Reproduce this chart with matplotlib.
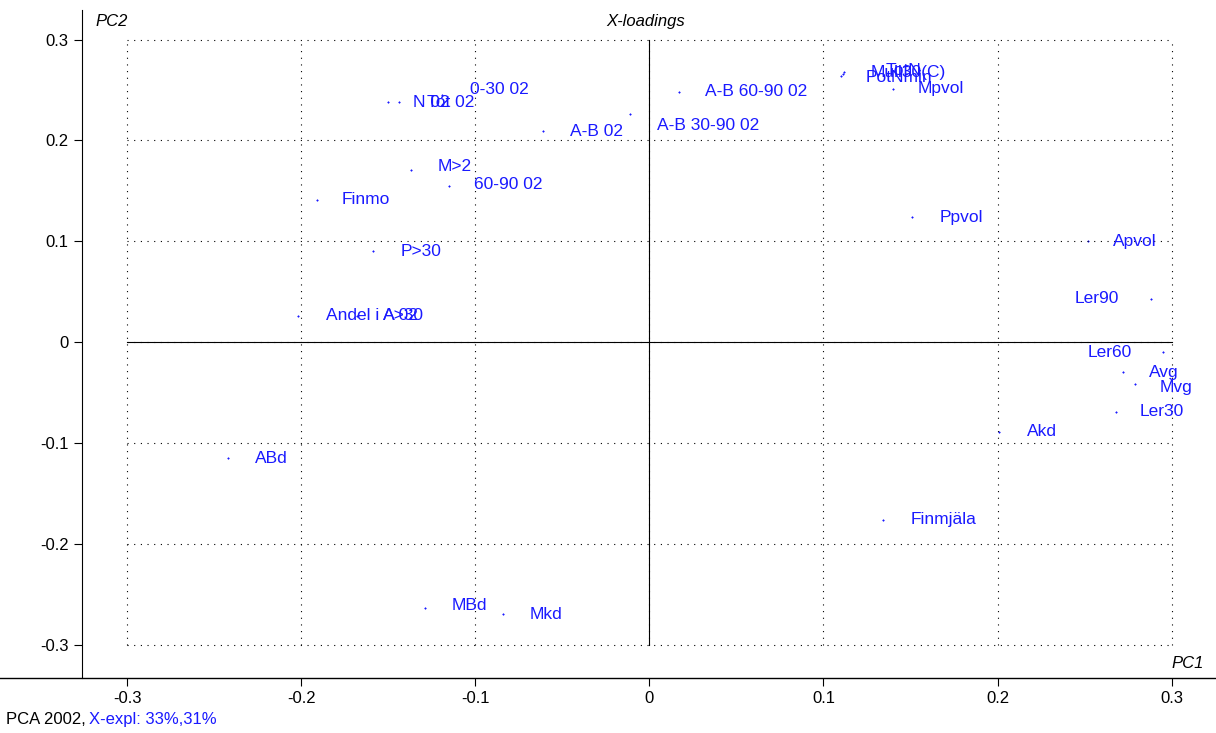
import matplotlib
matplotlib.use("Agg")
import matplotlib.pyplot as plt

plt.rcParams["font.family"] = ["Liberation Sans", "DejaVu Sans"]

# ==== DATA ====
labels = ["Finmo", "P>30", "M>2", "60-90 02", "0-30 02", "N 02", "Tot 02",
          "A-B 02", "A-B 30-90 02", "A-B 60-90 02", "Mull30(C)", "TotN", "PotNmin",
          "Mpvol", "Ppvol", "Apvol", "Ler90", "Ler60", "Avg", "Mvg", "Ler30",
          "Akd", "Finmjäla", "ABd", "MBd", "Mkd", "Andel i A 02", "A>30"]
pc1 = [-0.191, -0.159, -0.137, -0.115, -0.119, -0.150, -0.144,
       -0.061, -0.011, 0.017, 0.111, 0.112, 0.110,
       0.140, 0.151, 0.252, 0.288, 0.295, 0.272, 0.279, 0.268,
       0.201, 0.134, -0.242, -0.129, -0.084, -0.202, -0.168]
pc2 = [0.141, 0.090, 0.171, 0.155, 0.245, 0.238, 0.238,
       0.209, 0.226, 0.248, 0.266, 0.268, 0.264,
       0.251, 0.124, 0.100, 0.043, -0.010, -0.030, -0.042, -0.069,
       -0.089, -0.176, -0.115, -0.264, -0.270, 0.026, 0.026]
# label offsets in points (x, y)
offs = [(18, 0), (20, 0), (19, 2), (18, 1), (20, 4), (18, 0), (20, 0),
        (19, 0), (19, -8), (19, 0), (20, 1), (30, 1), (18, -1),
        (18, 0), (20, 0), (18, 0), (-55, 0), (-54, 0), (19, 0), (18, -2), (17, 0),
        (20, 0), (20, 0), (19, 0), (19, 2), (19, 0), (20, 0), (19, 0)]
blue = "#1a1aff"

fig = plt.figure(figsize=(12.16, 7.33), dpi=100)
ax = fig.add_axes([0.0674, 0.075, 0.9276, 0.911])
ax.set_xlim(-0.326, 0.322)
ax.set_ylim(-0.333, 0.329)

ticks = [-0.3, -0.2, -0.1, 0, 0.1, 0.2, 0.3]
for t in ticks:
    ax.plot([t, t], [-0.3, 0.3], color="black", ls=(0, (1, 5)), lw=0.8)
    ax.plot([-0.3, 0.3], [t, t], color="black", ls=(0, (1, 5)), lw=0.8)
ax.plot([0, 0], [-0.3, 0.3], color="black", lw=0.8)
ax.plot([-0.3, 0.3], [0, 0], color="black", lw=0.8)

ax.scatter(pc1, pc2, s=3, color=blue, marker="+", lw=0.8)
for l, x, y, o in zip(labels, pc1, pc2, offs):
    ax.annotate(l, (x, y), xytext=o, textcoords="offset points",
                color=blue, fontsize=12.5, ha="left", va="center")

for s in ["top", "right", "bottom"]:
    ax.spines[s].set_visible(False)
ax.set_xticks(ticks)
ax.set_xticklabels(["-0.3", "-0.2", "-0.1", "0", "0.1", "0.2", "0.3"])
ax.set_yticks(ticks)
ax.set_yticklabels(["-0.3", "-0.2", "-0.1", "0", "0.1", "0.2", "0.3"])
ax.tick_params(labelsize=12, length=6)
fig.add_artist(plt.Line2D([0, 1], [0.075, 0.075], color="black", lw=1))

ax.text(0.012, 0.995, "PC2", transform=ax.transAxes, fontsize=12, style="italic", va="top")
ax.text(0.995, 0.01, "PC1", transform=ax.transAxes, fontsize=12, style="italic", ha="right", va="bottom")
ax.text(0.5, 0.995, "X-loadings", transform=ax.transAxes, fontsize=12, style="italic", ha="center", va="top")

fig.text(0.005, 0.012, "PCA 2002, ", fontsize=12, color="black")
fig.text(0.0735, 0.012, "X-expl: 33%,31%", fontsize=12, color=blue)

fig.savefig("out.png", dpi=100)
